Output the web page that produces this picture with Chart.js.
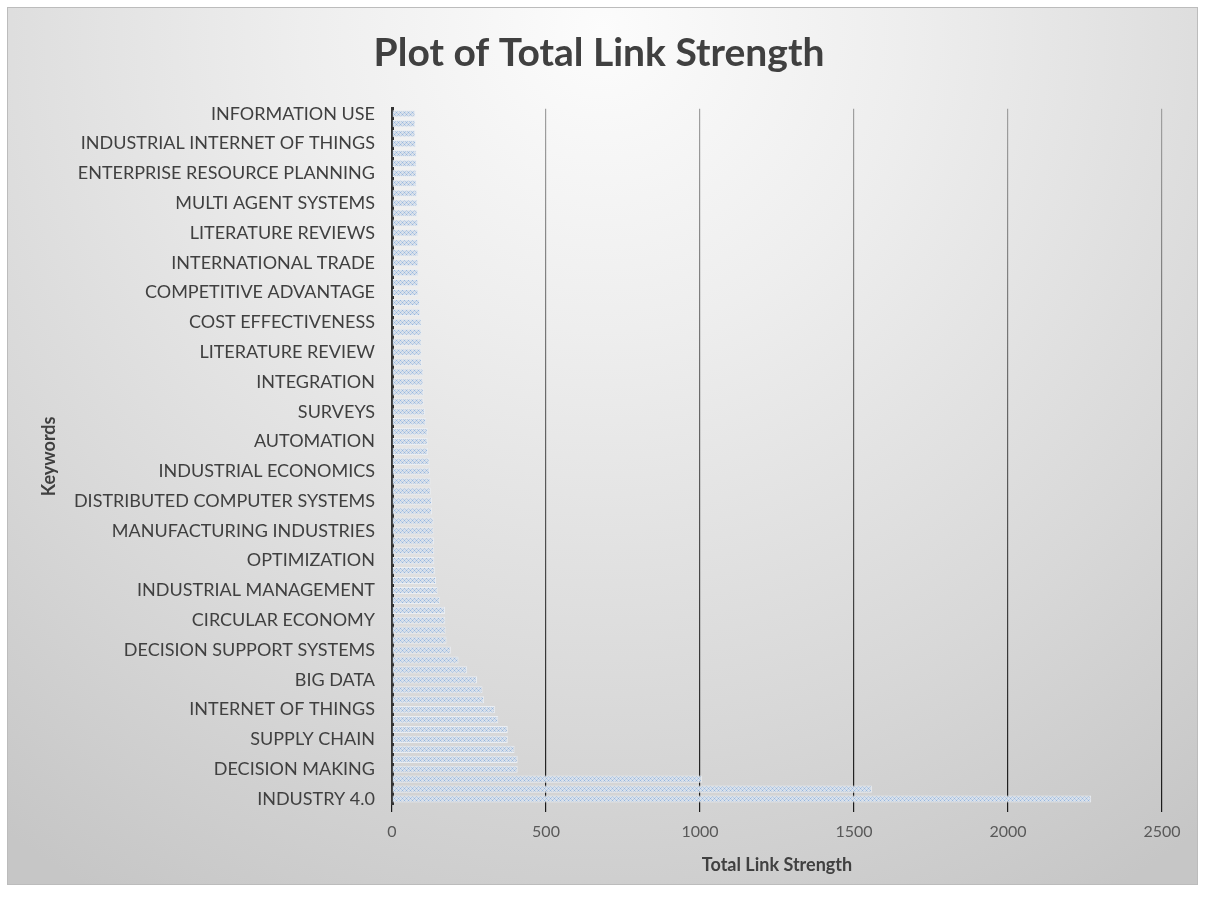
<!DOCTYPE html>
<html>
<head>
<meta charset="utf-8">
<title>Plot of Total Link Strength</title>
<script src="https://cdn.jsdelivr.net/npm/chart.js@4"></script>
<style>
  body { margin: 0; background: #ffffff; }
  canvas { display: block; }
</style>
</head>
<body>
<canvas id="link-chart" width="1205" height="900"></canvas>
<script>
// keywords printed on the axis, bottom to top (every third bar carries a name)
const keywords = [
    'INDUSTRY 4.0', 'DECISION MAKING', 'SUPPLY CHAIN', 'INTERNET OF THINGS',
    'BIG DATA', 'DECISION SUPPORT SYSTEMS', 'CIRCULAR ECONOMY', 'INDUSTRIAL MANAGEMENT',
    'OPTIMIZATION', 'MANUFACTURING INDUSTRIES', 'DISTRIBUTED COMPUTER SYSTEMS', 'INDUSTRIAL ECONOMICS',
    'AUTOMATION', 'SURVEYS', 'INTEGRATION', 'LITERATURE REVIEW',
    'COST EFFECTIVENESS', 'COMPETITIVE ADVANTAGE', 'INTERNATIONAL TRADE', 'LITERATURE REVIEWS',
    'MULTI AGENT SYSTEMS', 'ENTERPRISE RESOURCE PLANNING', 'INDUSTRIAL INTERNET OF THINGS', 'INFORMATION USE'
];
const labelEvery = 3;

// total link strength per keyword, strongest first
const linkStrength = [
    2270, 1558, 1006, 408, 408, 398, 376, 376, 345, 334,
    299, 294, 276, 244, 216, 191, 177, 174, 173, 172,
    155, 148, 143, 139, 137, 137, 136, 135, 135, 130,
    130, 126, 125, 123, 122, 117, 116, 116, 111, 107,
    103, 103, 102, 102, 97, 96, 96, 96, 96, 92,
    91, 86, 86, 86, 86, 86, 85, 85, 85, 83,
    83, 82, 80, 80, 80, 80, 78, 76, 76, 76
];

const xTicks = [0, 500, 1000, 1500, 2000, 2500];

const labels = linkStrength.map((v, i) => i % labelEvery === 0 ? keywords[i / labelEvery] : '');

// fine cross-hatch fill for the bars
function makePattern() {
    const c = document.createElement('canvas');
    c.width = 4;
    c.height = 4;
    const p = c.getContext('2d');
    p.fillStyle = '#d9e1eb';
    p.fillRect(0, 0, 4, 4);
    p.fillStyle = '#96b6de';
    p.fillRect(0, 0, 1, 1);
    p.fillRect(2, 2, 1, 1);
    p.fillStyle = '#b9cce4';
    p.fillRect(1, 1, 1, 1);
    p.fillRect(3, 3, 1, 1);
    p.fillRect(3, 1, 1, 1);
    p.fillRect(1, 3, 1, 1);
    return p.createPattern(c, 'repeat');
}

// grey backdrop with a light centre at the top and a thin frame
const backdrop = {
    id: 'backdrop',
    beforeDraw(chart) {
        const ctx = chart.ctx;
        ctx.save();
        ctx.fillStyle = '#ffffff';
        ctx.fillRect(0, 0, chart.width, chart.height);
        const g = ctx.createRadialGradient(602, 30, 0, 602, 30, 1000);
        g.addColorStop(0, '#fcfcfc');
        g.addColorStop(0.3, '#eeeeee');
        g.addColorStop(0.7, '#d8d8d8');
        g.addColorStop(1, '#c6c6c6');
        ctx.fillStyle = g;
        ctx.fillRect(7, 7, 1191, 878);
        ctx.strokeStyle = '#bcbcbc';
        ctx.lineWidth = 1;
        ctx.strokeRect(7.5, 7.5, 1190, 877);
        ctx.restore();
    }
};

function gridColor(context) {
    const area = context.chart.chartArea;
    if (!area) return '#555555';
    const g = context.chart.ctx.createLinearGradient(0, area.top, 0, area.bottom + 8);
    g.addColorStop(0, '#a0a0a0');
    g.addColorStop(1, '#1a1a1a');
    return g;
}

const ctx = document.getElementById('link-chart').getContext('2d');
new Chart(ctx, {
    type: 'bar',
    data: {
        labels: labels,
        datasets: [{
            label: 'Total Link Strength',
            data: linkStrength,
            backgroundColor: makePattern(),
            borderColor: '#eaeef3',
            borderWidth: 1,
            barPercentage: 0.72,
            categoryPercentage: 1
        }]
    },
    options: {
        indexAxis: 'y',
        responsive: false,
        animation: false,
        layout: { padding: { top: 30, right: 43, bottom: 24, left: 36 } },
        plugins: {
            legend: { display: false },
            tooltip: { enabled: false },
            title: {
                display: true,
                text: 'Plot of Total Link Strength',
                color: '#404040',
                font: { family: 'Lato', size: 39, weight: 'bold' },
                padding: { top: 0, bottom: 32 }
            }
        },
        scales: {
            x: {
                min: 0,
                max: 2500,
                afterFit(scale) { scale.height = 72; },
                afterBuildTicks(scale) { scale.ticks = xTicks.map(v => ({ value: v })); },
                grid: { color: gridColor, lineWidth: 1.2, drawTicks: true, tickLength: 8 },
                border: { display: false },
                ticks: {
                    color: '#595959',
                    padding: 10,
                    font: { family: 'Lato', size: 16 },
                    callback: v => String(v)
                },
                title: {
                    display: true,
                    text: 'Total Link Strength',
                    color: '#404040',
                    font: { family: 'Lato', size: 18, weight: 'bold' },
                    padding: { top: 2, bottom: 0 }
                }
            },
            y: {
                reverse: true,
                afterFit(scale) { scale.width = 356; },
                grid: { display: false, drawTicks: false },
                border: { display: true, color: '#333333', width: 3 },
                ticks: {
                    autoSkip: false,
                    color: '#404040',
                    padding: 17,
                    font: { family: 'Lato', size: 18 }
                },
                title: {
                    display: true,
                    text: 'Keywords',
                    color: '#404040',
                    font: { family: 'Lato', size: 18, weight: 'bold' },
                    padding: { top: 2, bottom: 2 }
                }
            }
        }
    },
    plugins: [backdrop]
});
</script>
</body>
</html>
